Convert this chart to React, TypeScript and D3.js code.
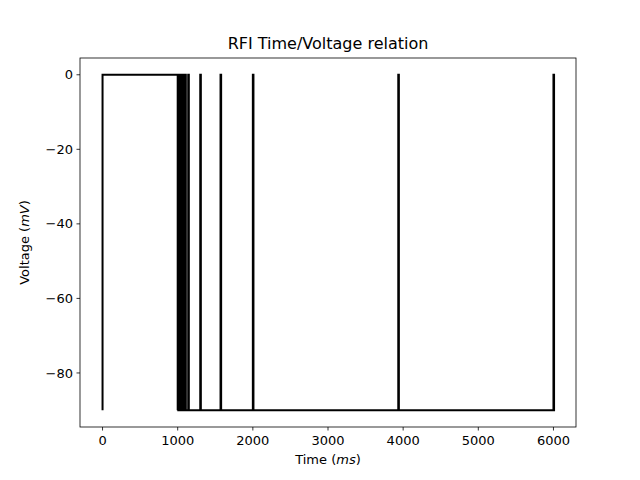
import * as d3 from 'd3';

// spike onset times (ms) after the initial plateau
const plateau = [0, 1000];
const spikeTimes = [1000, 1010, 1020, 1030, 1045, 1060, 1080, 1100, 1140, 1300, 1570, 2000, 3935, 6000];
const spikeWidth = 8;
const restV = -90;
const peakV = 0;
const xTicks = [0, 1000, 2000, 3000, 4000, 5000, 6000];
const yTicks = [0, -20, -40, -60, -80];

const W = 640, H = 480;
const m = { left: 80, right: 64, top: 58, bottom: 53 };

export default function App() {
  const x = d3.scaleLinear().domain([-300, 6300]).range([m.left, W - m.right]);
  const y = d3.scaleLinear().domain([-94.5, 4.5]).range([H - m.bottom, m.top]);

  const pts: [number, number][] = [[plateau[0], restV], [plateau[0], peakV], [plateau[1], peakV], [plateau[1], restV]];
  spikeTimes.forEach(t => {
    pts.push([t, restV], [t, peakV], [t + spikeWidth, peakV], [t + spikeWidth, restV]);
  });
  pts.push([6000, restV]);
  const line = d3.line<[number, number]>().x(d => x(d[0])).y(d => y(d[1]));

  const font = 'DejaVu Sans, sans-serif';
  return (
    <svg width={W} height={H} style={{ position: 'absolute', left: 0, top: 0, fontFamily: font }}>
      <rect width={W} height={H} fill="#fff" />
      <text x={(m.left + W - m.right) / 2} y={m.top - 9} textAnchor="middle" fontSize={16}>RFI Time/Voltage relation</text>
      <path d={line(pts) || ''} fill="none" stroke="#000" strokeWidth={2} strokeLinejoin="miter" />
      <rect x={m.left} y={m.top} width={W - m.left - m.right} height={H - m.top - m.bottom} fill="none" stroke="#000" strokeWidth={0.8} />
      {xTicks.map(t => (
        <g key={t} transform={`translate(${x(t)},${H - m.bottom})`}>
          <line y2={3.5} stroke="#000" strokeWidth={0.8} />
          <text y={18} textAnchor="middle" fontSize={13}>{t}</text>
        </g>
      ))}
      {yTicks.map(t => (
        <g key={t} transform={`translate(${m.left},${y(t)})`}>
          <line x2={-3.5} stroke="#000" strokeWidth={0.8} />
          <text x={-7} dy="0.35em" textAnchor="end" fontSize={13}>{t === 0 ? '0' : '\u2212' + Math.abs(t)}</text>
        </g>
      ))}
      <text x={(m.left + W - m.right) / 2} y={H - 16} textAnchor="middle" fontSize={13}>
        Time (<tspan fontStyle="italic">ms</tspan>)
      </text>
      <text transform={`translate(29,${(m.top + H - m.bottom) / 2}) rotate(-90)`} textAnchor="middle" fontSize={13}>
        Voltage (<tspan fontStyle="italic">mV</tspan>)
      </text>
    </svg>
  );
}
